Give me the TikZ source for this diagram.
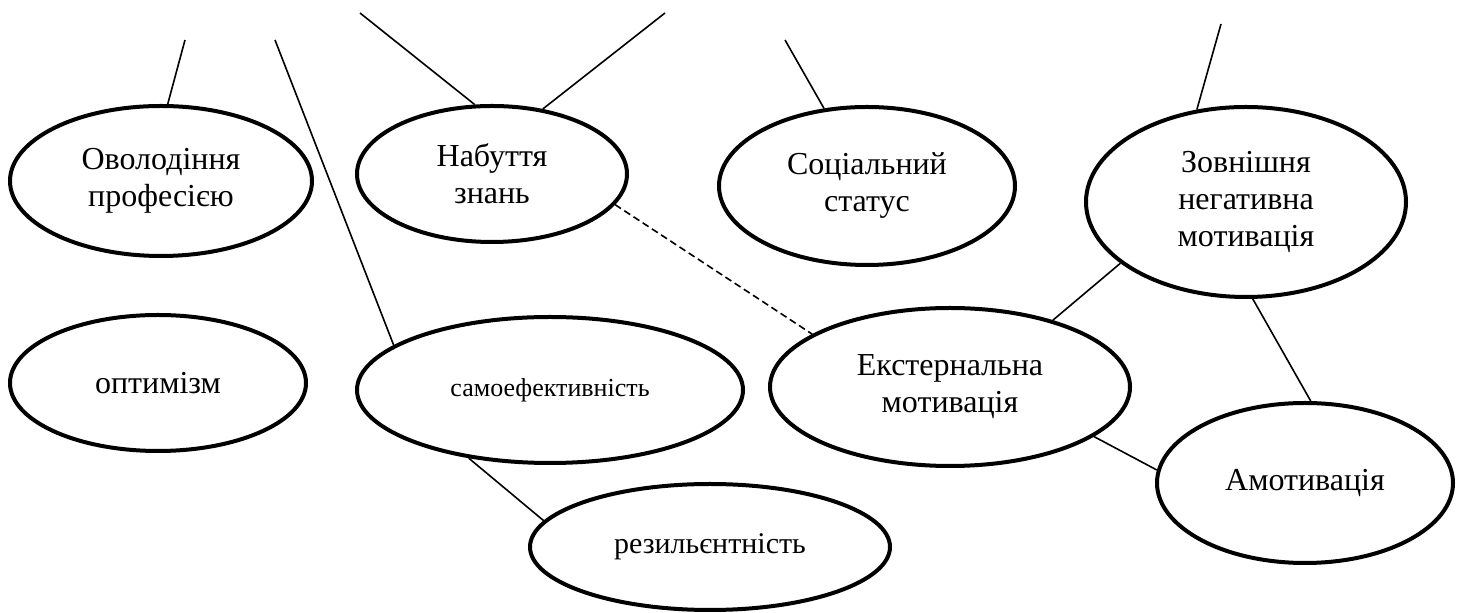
\documentclass[tikz,border=0pt]{standalone}
\usepackage{fontspec}
\setmainfont{Liberation Serif}
\usepackage{tikz}
\usetikzlibrary{shapes.geometric}

\begin{document}
\begin{tikzpicture}[x=0.5pt,y=-0.5pt,
    oval/.style={ellipse,draw,line width=2pt,inner sep=0pt,align=center,
      font=\fontsize{16}{18.5}\selectfont},
    link/.style={line width=0.8pt}]
      \useasboundingbox (0,0) rectangle (1457,613);
      % ovals
      \node[oval,minimum width=151pt,minimum height=75pt] (prof) at (161,181) {Оволодіння\\професією};
      \node[oval,minimum width=135pt,minimum height=68pt] (znan) at (492,174) {Набуття\\знань};
      \node[oval,minimum width=148pt,minimum height=79pt] (stat) at (867,186) {Соціальний\\статус};
      \node[oval,minimum width=160pt,minimum height=95pt] (neg) at (1246,202) {Зовнішня\\негативна\\мотивація};
      \node[oval,minimum width=148pt,minimum height=68pt] (opt) at (158,383) {оптимізм};
      \node[oval,minimum width=193pt,minimum height=73pt,
        font=\fontsize{13}{15}\selectfont] (self) at (550,390) {самоефективність};
      \node[oval,minimum width=180pt,minimum height=63pt,
        font=\fontsize{15}{18}\selectfont] (res) at (710,547) {резильєнтність};
      \node[oval,minimum width=180pt,minimum height=79pt] (ext) at (950,387) {Екстернальна\\мотивація};
      \node[oval,minimum width=148pt,minimum height=80pt] (amot) at (1305,483) {Амотивація};
      % loose ends at the top
      \coordinate (t1) at (185,40);
      \coordinate (t2) at (275,40);
      \coordinate (t3) at (360,13);
      \coordinate (t4) at (665,13);
      \coordinate (t5) at (785,40);
      \coordinate (t6) at (1221,24);
      \draw[link] (t1) -- (prof.85.5);
      \draw[link] (t2) -- (self.164);
      \draw[link] (t3) -- (znan.104);
      \draw[link] (t4) -- (znan.52);
      \draw[link] (t5) -- (stat.119);
      \draw[link] (t6) -- (neg.118);
      % links between ovals
      \draw[link,dash pattern=on 3.5pt off 2pt] (znan.-14) -- (ext.159.6);
      \draw[link] (ext.33.7) -- (neg.206);
      \draw[link] (neg.-86) -- (amot.86.6);
      \draw[link] (ext.-19.3) -- (amot.175.4);
      \draw[link] (self.220) -- (res.171.5);
    \end{tikzpicture}
\end{document}
